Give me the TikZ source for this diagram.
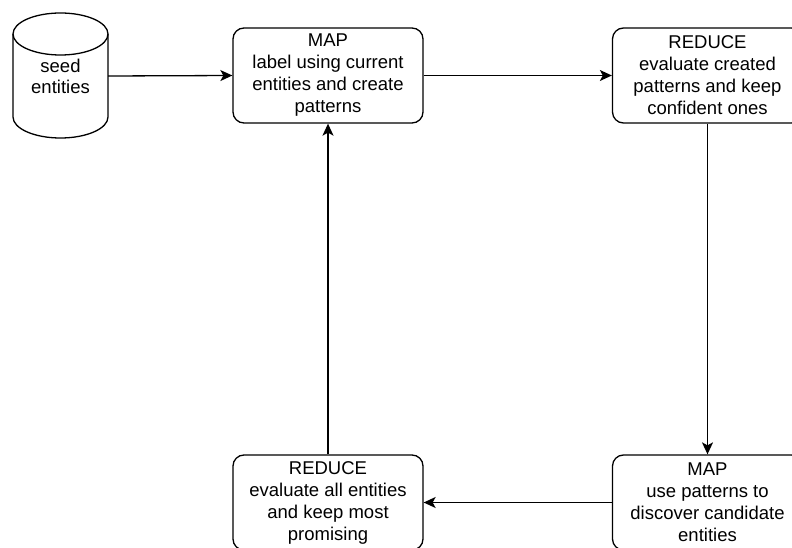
\documentclass[tikz,border=0pt]{standalone}
\usepackage{fontspec}
\setmainfont{Liberation Sans}
\usetikzlibrary{arrows.meta, positioning}

\begin{document}
\begin{tikzpicture}[
    x=1pt, y={(0pt,-1pt)},
    mrbox/.style={rectangle, draw, rounded corners=11pt, minimum width=190pt, minimum height=95pt, align=center, line width=1.3pt, font=\fontsize{18.5}{22}\selectfont},
    arrow/.style={-{Stealth[length=12pt, width=11pt, inset=3pt]}, line width=1.3pt}
]
\useasboundingbox (0,0) rectangle (792,548);

% Seed store
\node[minimum width=95pt, minimum height=125pt, align=center, font=\fontsize{18.5}{21}\selectfont] (seed) at (60.5,76) {seed\\entities};
\draw[line width=1.3pt] (60.5,34) ellipse [x radius=47.5pt, y radius=21pt];
\draw[line width=1.3pt] (13,34) -- (13,117) arc[start angle=180, end angle=360, x radius=47.5pt, y radius=21pt] -- (108,34);

% Top row
\node[mrbox] (map1) at (328,75.5) {MAP\\label using current\\entities and create\\patterns};
\node[mrbox] (reduce1) at (707.5,75.5) {REDUCE\\evaluate created\\patterns and keep\\confident ones};

% Bottom row
\node[mrbox] (map2) at (707.5,502.5) {MAP\\use patterns to\\discover candidate\\entities};
\node[mrbox] (reduce2) at (328,502.5) {REDUCE\\evaluate all entities\\and keep most\\promising};

\draw[arrow] (seed.east) -- (map1.west);
\draw[arrow] (map1) -- (reduce1);
\draw[arrow] (reduce1) -- (map2);
\draw[arrow] (map2) -- (reduce2);
\draw[arrow] (reduce2) -- (map1);

\end{tikzpicture}
\end{document}
